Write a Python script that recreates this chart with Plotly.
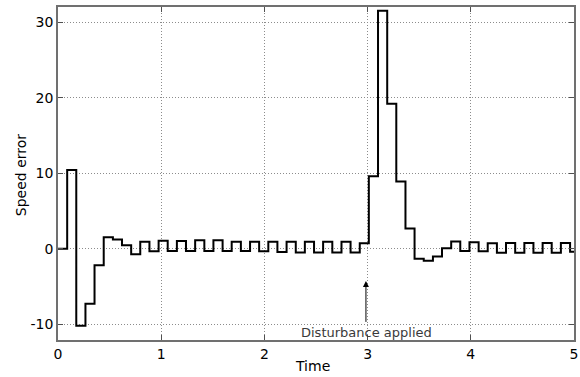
import plotly.graph_objects as go

# Sample instants (s) of the discrete speed-error signal
time_s = [0.000, 0.089, 0.177, 0.266, 0.354, 0.443, 0.532, 0.620, 0.709, 0.797,
          0.886, 0.975, 1.063, 1.152, 1.240, 1.329, 1.418, 1.506, 1.595, 1.683,
          1.772, 1.861, 1.949, 2.038, 2.126, 2.215, 2.304, 2.392, 2.481, 2.569,
          2.658, 2.747, 2.835, 2.924, 3.012, 3.101, 3.190, 3.278, 3.367, 3.455,
          3.544, 3.633, 3.721, 3.810, 3.898, 3.987, 4.076, 4.164, 4.253, 4.341,
          4.430, 4.519, 4.607, 4.696, 4.784, 4.873, 4.962, 5.000]

speed_error = [0.0, 10.4, -10.2, -7.3, -2.2, 1.5, 1.2, 0.45, -0.75, 0.9,
               -0.35, 1.05, -0.3, 1.0, -0.3, 1.1, -0.3, 1.1, -0.3, 0.9,
               -0.3, 0.9, -0.35, 0.9, -0.45, 0.9, -0.5, 0.9, -0.5, 0.9,
               -0.5, 0.9, -0.5, 0.7, 9.6, 31.5, 19.2, 8.9, 2.65, -1.35,
               -1.6, -1.05, 0.05, 0.95, -0.3, 0.85, -0.35, 0.7, -0.55, 0.75,
               -0.55, 0.75, -0.55, 0.75, -0.55, 0.75, -0.4, -0.4]

x_ticks = [0, 1, 2, 3, 4, 5]
y_ticks = [-10, 0, 10, 20, 30]

x_title = "Time"
y_title = "Speed error"
annot_text = "Disturbance applied"
annot_text_pos = (2.99, -11.1)
arrow_tip = (2.984, -4.3)
arrow_tail = (2.984, -9.9)

FONT = "DejaVu Sans"

fig = go.Figure()
fig.add_trace(go.Scatter(
    x=time_s, y=speed_error, mode="lines", line_shape="hv",
    line=dict(color="black", width=2), showlegend=False, hoverinfo="skip"))

axis_common = dict(
    showgrid=True, gridcolor="#8c8c8c", griddash="1px,2px", gridwidth=1,
    zeroline=False, showline=True, linecolor="#707070", linewidth=1.5,
    mirror="ticks", ticks="inside", ticklen=5, tickcolor="#505050", tickwidth=1,
    tickfont=dict(family=FONT, size=14, color="black"),
    automargin=False,
)

fig.update_xaxes(range=[0, 5], tickvals=x_ticks, ticktext=[str(v) for v in x_ticks],
                 **axis_common)
fig.update_yaxes(range=[-12.1, 32.0], tickvals=y_ticks, ticktext=[str(v) for v in y_ticks],
                 **axis_common)

# axis titles
fig.add_annotation(x=0.494, y=0, xref="paper", yref="paper", yshift=-26,
                   text=x_title, showarrow=False, yanchor="middle",
                   font=dict(family=FONT, size=14, color="black"))
fig.add_annotation(x=0, y=0.495, xref="paper", yref="paper", xshift=-37,
                   text=y_title, showarrow=False, textangle=-90, xanchor="center",
                   font=dict(family=FONT, size=14, color="black"))

fig.add_annotation(x=annot_text_pos[0], y=annot_text_pos[1], text=annot_text,
                   showarrow=False, font=dict(family=FONT, size=13, color="#3a3a3a"),
                   xref="x", yref="y")
fig.add_annotation(x=arrow_tip[0], y=arrow_tip[1], ax=arrow_tail[0], ay=arrow_tail[1],
                   xref="x", yref="y", axref="x", ayref="y", text="",
                   showarrow=True, arrowhead=2, arrowsize=1.2, arrowwidth=1,
                   arrowcolor="black")

fig.update_layout(
    width=580, height=377,
    margin=dict(l=58, r=6, t=7, b=37),
    paper_bgcolor="white", plot_bgcolor="white",
    font=dict(family=FONT),
)

fig.write_html("out.html")
